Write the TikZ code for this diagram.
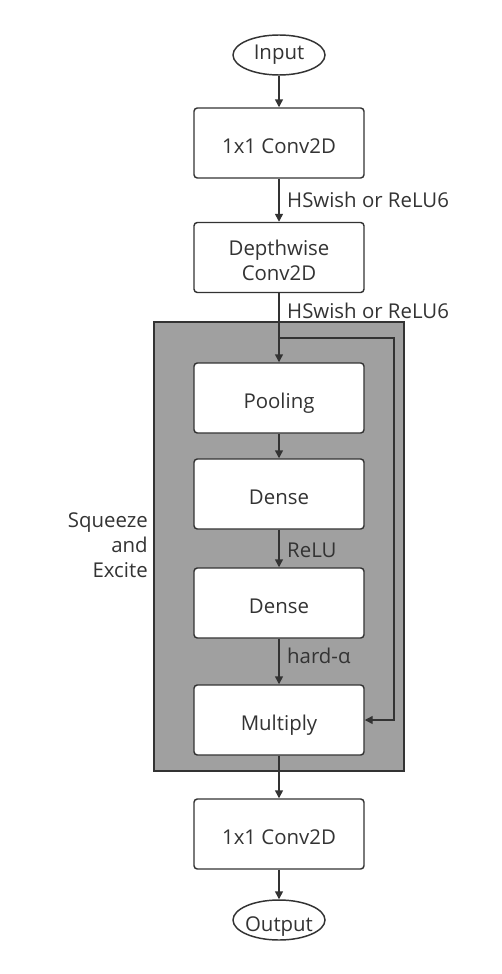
\documentclass[tikz,border=0pt]{standalone}
\usepackage{fontspec}
\setmainfont{Open Sans}
\usetikzlibrary{arrows.meta,shapes.geometric}
\definecolor{ink}{HTML}{333333}
\definecolor{segray}{HTML}{A0A0A0}
\begin{document}
\begin{tikzpicture}[x=0.75pt,y=-0.75pt,
  every node/.style={text=ink, font=\fontsize{15.3}{18.75}\selectfont},
  box/.style={draw=ink, line width=1.1pt, fill=white, rounded corners=2.5pt,
    minimum width=127.5pt, minimum height=52.5pt, inner sep=0pt, align=center,
    text height=15pt, text depth=0pt},
  term/.style={draw=ink, line width=1.1pt, fill=white, ellipse,
    minimum width=69pt, minimum height=30pt, inner sep=0pt, text depth=0pt},
  sebox/.style={draw=ink, line width=1.1pt, fill=segray,
    minimum width=187.5pt, minimum height=336.75pt, inner sep=0pt},
  arr/.style={draw=ink, line width=1.1pt, -{Triangle[length=6pt,width=6pt]}},
  lab/.style={anchor=base west, inner sep=0pt, xshift=5.6pt}
]
\useasboundingbox (0,0) rectangle (502,974);
\node[sebox] (se) at (279,546.5) {};
\node[align=right, anchor=base east, inner sep=0pt] (selab) at (148,577) {Squeeze\\and\\Excite};

\node[term, text height=7.5pt] (in) at (279,55) {Input};
\node[box] (c1) at (279,143) {1x1 Conv2D};
\node[box, text height=33.75pt, text depth=0pt] (dw) at (279,257.5) {Depthwise\\Conv2D};
\node[box] (pool) at (279,398) {Pooling};
\node[box] (d1) at (279,494) {Dense};
\node[box] (d2) at (279,603) {Dense};
\node[box] (mul) at (279,720) {Multiply};
\node[box] (c2) at (279,834) {1x1 Conv2D};
\node[term, text height=16.5pt, inner xsep=-2pt] (out) at (279,920) {Output};

\coordinate (fb) at (279,338);
\coordinate (fbr) at (394,338);

\draw[arr] (in) -- (c1);
\draw[arr] (c1) -- node[lab, pos=0.68] {HSwish or ReLU6} (dw);
\draw[arr] (dw) -- node[lab, pos=0.36] {HSwish or ReLU6} (pool);
\draw[arr] (fb) -- (fbr) |- (mul.east);
\draw[arr] (pool) -- (d1);
\draw[arr] (d1) -- node[lab, pos=0.74] {ReLU} (d2);
\draw[arr] (d2) -- node[lab, pos=0.55] {hard-α} (mul);
\draw[arr] (mul) -- (c2);
\draw[arr] (c2) -- (out);
\end{tikzpicture}
\end{document}
